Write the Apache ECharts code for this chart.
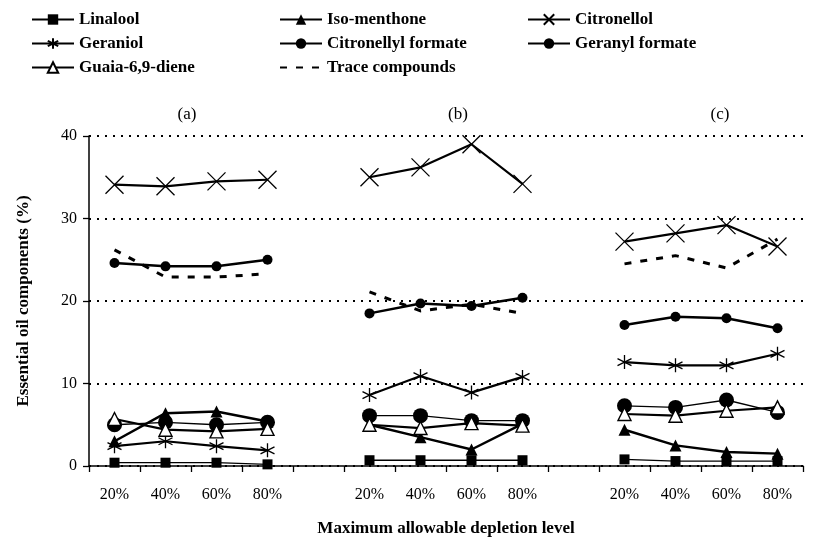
<!DOCTYPE html>
<html>
<head>
<meta charset="utf-8">
<script src="https://cdn.jsdelivr.net/npm/echarts@6/dist/echarts.min.js"></script>
<style>
  html, body { margin: 0; padding: 0; background: #fff; }
  #chart { width: 820px; height: 543px; }
</style>
</head>
<body>
<div id="chart"></div>
<script>
// Category slots: panel (a), gap, panel (b), gap, panel (c)
const categories = ['20%', '40%', '60%', '80%', '', '20%', '40%', '60%', '80%', '', '20%', '40%', '60%', '80%'];
const panelLabels = ['(a)', '(b)', '(c)'];
const yTicks = [0, 10, 20, 30, 40];

// Values per compound: 4 values for (a), 4 for (b), 4 for (c)
const linalool = [0.4, 0.4, 0.4, 0.2, 0.7, 0.7, 0.7, 0.7, 0.8, 0.6, 0.6, 0.6];
const isoMenthone = [3.0, 6.4, 6.6, 5.4, 5.0, 3.5, 2.0, 5.1, 4.4, 2.5, 1.7, 1.5];
const citronellol = [34.1, 33.9, 34.5, 34.7, 35.0, 36.2, 39.0, 34.2, 27.2, 28.2, 29.2, 26.6];
const geraniol = [2.4, 3.0, 2.4, 1.9, 8.6, 10.9, 8.9, 10.8, 12.6, 12.2, 12.2, 13.6];
const citronellylFormate = [24.6, 24.2, 24.2, 25.0, 18.5, 19.7, 19.4, 20.4, 17.1, 18.1, 17.9, 16.7];
const geranylFormate = [5.0, 5.3, 5.0, 5.3, 6.1, 6.1, 5.5, 5.5, 7.3, 7.1, 8.0, 6.5];
const guaiaDiene = [5.7, 4.4, 4.2, 4.5, 5.0, 4.6, 5.2, 4.9, 6.3, 6.1, 6.7, 7.1];
const traceCompounds = [26.2, 22.9, 22.9, 23.3, 21.1, 18.8, 19.6, 18.5, 24.5, 25.5, 24.0, 27.5];

function withGaps(v) {
  return [v[0], v[1], v[2], v[3], null, v[4], v[5], v[6], v[7], null, v[8], v[9], v[10], v[11]];
}

const SERIF = '"Liberation Serif", "DejaVu Serif", serif';
const BLACK = '#000';
const X_PATH = 'path://M0,0L10,10M10,0L0,10';
const AST_PATH = 'path://M5,0L5,10M0.7,2.5L9.3,7.5M9.3,2.5L0.7,7.5';

function lineSeries(name, values, opts) {
  return Object.assign({
    name: name,
    type: 'line',
    data: withGaps(values),
    connectNulls: false,
    symbol: 'circle',
    symbolSize: 9,
    showAllSymbol: true,
    lineStyle: { color: BLACK, width: 2.5 },
    itemStyle: { color: BLACK, borderColor: BLACK, borderWidth: 0 },
    emphasis: { disabled: true },
    animation: false
  }, opts);
}

const series = [
  lineSeries('Linalool', linalool, {
    symbol: 'rect', symbolSize: 10,
    lineStyle: { color: BLACK, width: 1.3 }
  }),
  lineSeries('Iso-menthone', isoMenthone, {
    symbol: 'triangle', symbolSize: 12,
    lineStyle: { color: BLACK, width: 2.5 }
  }),
  lineSeries('Citronellol', citronellol, {
    symbol: X_PATH, symbolSize: 18,
    lineStyle: { color: BLACK, width: 2.2 },
    itemStyle: { color: 'rgba(0,0,0,0)', borderColor: BLACK, borderWidth: 1.3 }
  }),
  lineSeries('Geraniol', geraniol, {
    symbol: AST_PATH, symbolSize: 14,
    lineStyle: { color: BLACK, width: 2.2 },
    itemStyle: { color: 'rgba(0,0,0,0)', borderColor: BLACK, borderWidth: 1.3 }
  }),
  lineSeries('Citronellyl formate', citronellylFormate, {
    symbol: 'circle', symbolSize: 10,
    lineStyle: { color: BLACK, width: 2.5 }
  }),
  lineSeries('Geranyl formate', geranylFormate, {
    symbol: 'circle', symbolSize: 15,
    lineStyle: { color: BLACK, width: 1.3 }
  }),
  lineSeries('Guaia-6,9-diene', guaiaDiene, {
    symbol: 'triangle', symbolSize: 13,
    lineStyle: { color: BLACK, width: 2.2 },
    itemStyle: { color: '#fff', borderColor: BLACK, borderWidth: 1.4 }
  }),
  lineSeries('Trace compounds', traceCompounds, {
    symbol: 'none',
    symbolSize: 0,
    lineStyle: { color: BLACK, width: 3, type: [7, 9] },
    itemStyle: { color: 'rgba(0,0,0,0)', borderColor: 'rgba(0,0,0,0)', borderWidth: 0, opacity: 0 }
  })
];

const legendText = { fontFamily: SERIF, fontWeight: 'bold', fontSize: 17, color: BLACK };
function legendCol(left, names) {
  return {
    orient: 'vertical', left: left, top: 6,
    itemWidth: 42, itemHeight: 13, itemGap: 7,
    textStyle: legendText,
    selectedMode: false,
    data: names
  };
}

const panelTitle = (text, x) => ({
  text: text, left: x, top: 101, textAlign: 'center',
  textStyle: { fontFamily: SERIF, fontWeight: 'normal', fontSize: 17, color: BLACK }
});

const chart = echarts.init(document.getElementById('chart'), null, { renderer: 'canvas' });
chart.setOption({
  backgroundColor: '#fff',
  animation: false,
  title: [
    panelTitle(panelLabels[0], 182),
    panelTitle(panelLabels[1], 453),
    panelTitle(panelLabels[2], 715)
  ],
  legend: [
    legendCol(26, ['Linalool', 'Geraniol', 'Guaia-6,9-diene']),
    legendCol(274, ['Iso-menthone', 'Citronellyl formate', 'Trace compounds']),
    legendCol(522, ['Citronellol', 'Geranyl formate'])
  ],
  grid: { left: 89, right: 17, top: 136, bottom: 77, containLabel: false },
  xAxis: {
    type: 'category',
    data: categories,
    boundaryGap: true,
    name: 'Maximum allowable depletion level',
    nameLocation: 'middle',
    nameGap: 54,
    nameTextStyle: { fontFamily: SERIF, fontWeight: 'bold', fontSize: 17, color: BLACK },
    axisLine: { lineStyle: { color: BLACK, width: 1.5 } },
    axisTick: { show: true, length: 6, interval: 0, lineStyle: { color: BLACK, width: 1.3 } },
    axisLabel: { interval: 0, margin: 21, fontFamily: SERIF, fontSize: 16, color: BLACK },
    splitLine: { show: false }
  },
  yAxis: {
    type: 'value',
    min: yTicks[0], max: yTicks[yTicks.length - 1], interval: 10,
    name: 'Essential oil components (%)',
    nameLocation: 'middle',
    nameGap: 57,
    nameRotate: 90,
    nameTextStyle: { fontFamily: SERIF, fontWeight: 'bold', fontSize: 17, color: BLACK },
    axisLine: { show: true, lineStyle: { color: BLACK, width: 1.5 } },
    axisTick: { show: true, length: 6, lineStyle: { color: BLACK, width: 1.3 } },
    axisLabel: { margin: 12, fontFamily: SERIF, fontSize: 16, color: BLACK },
    splitLine: { show: true, lineStyle: { color: BLACK, width: 2, type: [2, 6] } }
  },
  series: series
});
</script>
</body>
</html>
